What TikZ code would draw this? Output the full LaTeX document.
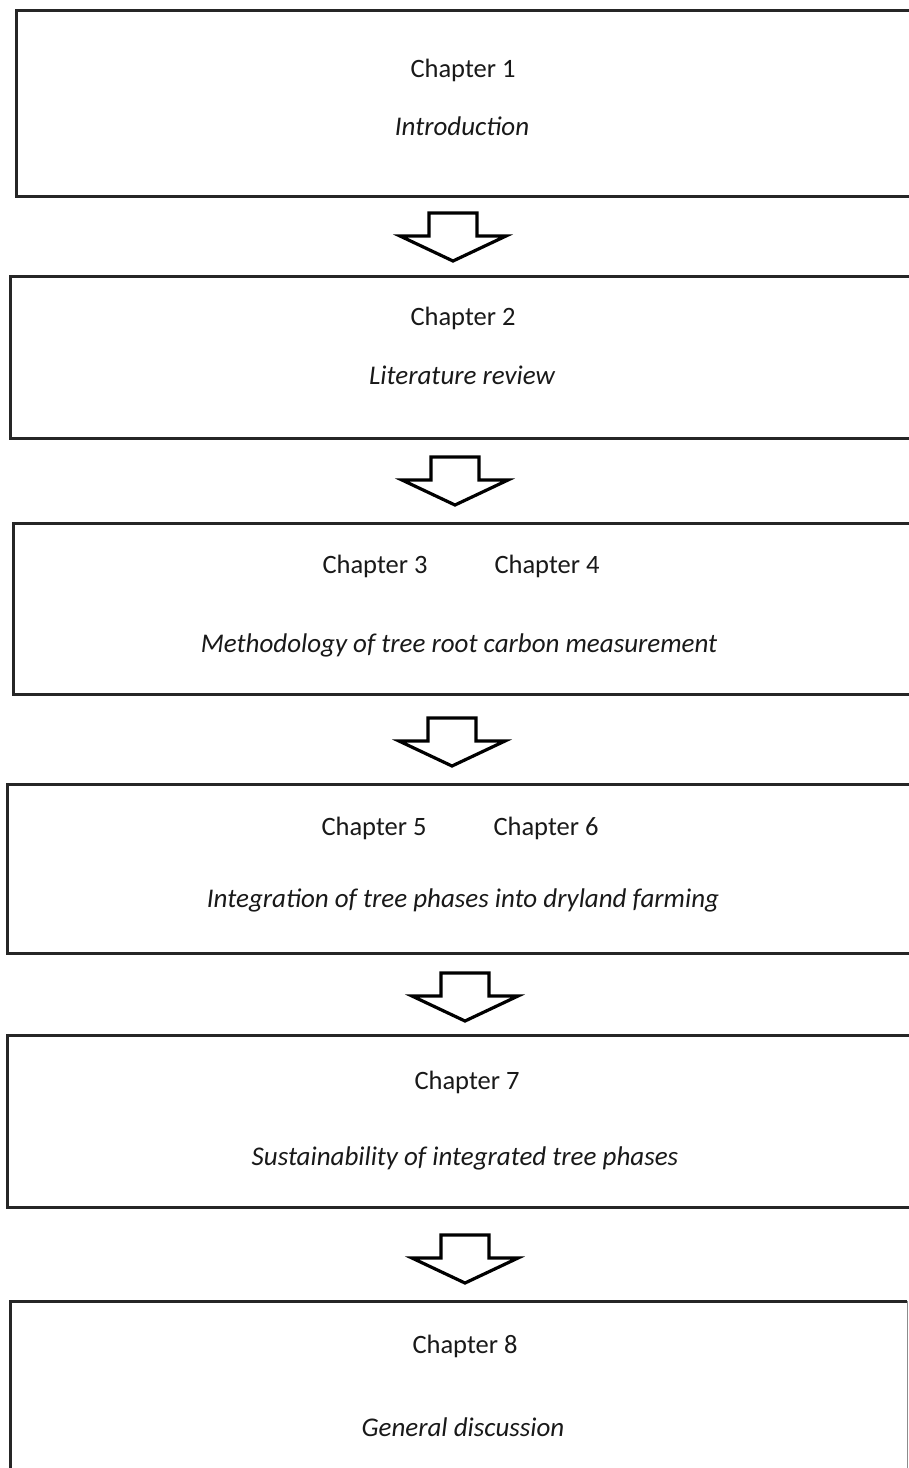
\documentclass[tikz,border=0pt]{standalone}
\usepackage{fontspec}
\setmainfont{Carlito}
\usetikzlibrary{calc}
\tikzset{
  chbox/.style={draw=none, fill=white, inner sep=0pt, outer sep=0pt, anchor=north west},
  boxline/.style={draw=black!85, line width=3pt, line join=miter},
  chtext/.style={inner sep=0pt, text=black!90, font=\fontsize{26.5}{30}\selectfont},
  chtitle/.style={chtext, font=\fontsize{27}{30}\selectfont\itshape},
  blockarrow/.style={draw=black, line width=3.2pt, fill=white, line join=miter, miter limit=20}
}
\newcommand{\blockarrowat}[1]{%
  \draw[blockarrow] ($(#1)+(-24,0)$) -- ++(48,0) -- ++(0,23) -- ++(29,0)
    -- ++(-53,25) -- ++(-53,-25) -- ++(29,0) -- cycle;}
\newcommand{\openbox}[1]{%
  \draw[boxline] (#1.north east) -- (#1.north west) -- (#1.south west) -- (#1.south east);}
\begin{document}
\begin{tikzpicture}[x=1pt,y=-1pt]
\useasboundingbox (0,0) rectangle (909,1468);
\clip (0,0) rectangle (909,1468);
\fill[white] (0,0) rectangle (909,1468);
% boxes (their right sides lie beyond the picture)
\node[chbox, minimum width=903pt, minimum height=186pt] (b1) at (16,10) {};
\node[chbox, minimum width=909pt, minimum height=162pt] (b2) at (10,276) {};
\node[chbox, minimum width=906pt, minimum height=171pt] (b3) at (13,523) {};
\node[chbox, minimum width=912pt, minimum height=169pt] (b4) at (7,784) {};
\node[chbox, minimum width=912pt, minimum height=172pt] (b5) at (7,1035) {};
\node[chbox, minimum width=897pt, minimum height=200pt] (b6) at (10,1301) {};
\openbox{b1}
\openbox{b2}
\openbox{b3}
\openbox{b4}
\openbox{b5}
\draw[black!45, line width=1pt] (b6.north east) -- (b6.south east);
\draw[boxline] (b6.south west) -- (b6.north west) -- (b6.north east);
% texts
\node[chtext] (c1) at (463,70) {Chapter 1};
\node[chtitle] (t1) at (462,126) {Introduction};
\node[chtext] (c2) at (463,318) {Chapter 2};
\node[chtitle] (t2) at (462,375) {Literature review};
\node[chtext] (c3) at (375,566) {Chapter 3};
\node[chtext] (c4) at (547,566) {Chapter 4};
\node[chtitle] (t3) at (459,645) {Methodology of tree root carbon measurement};
\node[chtext] (c5) at (374,828) {Chapter 5};
\node[chtext] (c6) at (546,828) {Chapter 6};
\node[chtitle] (t4) at (463,900) {Integration of tree phases into dryland farming};
\node[chtext] (c7) at (467,1082) {Chapter 7};
\node[chtitle] (t5) at (465,1158) {Sustainability of integrated tree phases};
\node[chtext] (c8) at (465,1346) {Chapter 8};
\node[chtitle] (t6) at (463,1427) {General discussion};
% arrows
\coordinate (a1) at (453,213);
\coordinate (a2) at (455,457);
\coordinate (a3) at (452,718);
\coordinate (a4) at (465,973);
\coordinate (a5) at (465,1235);
\blockarrowat{a1}
\blockarrowat{a2}
\blockarrowat{a3}
\blockarrowat{a4}
\blockarrowat{a5}
\end{tikzpicture}
\end{document}
